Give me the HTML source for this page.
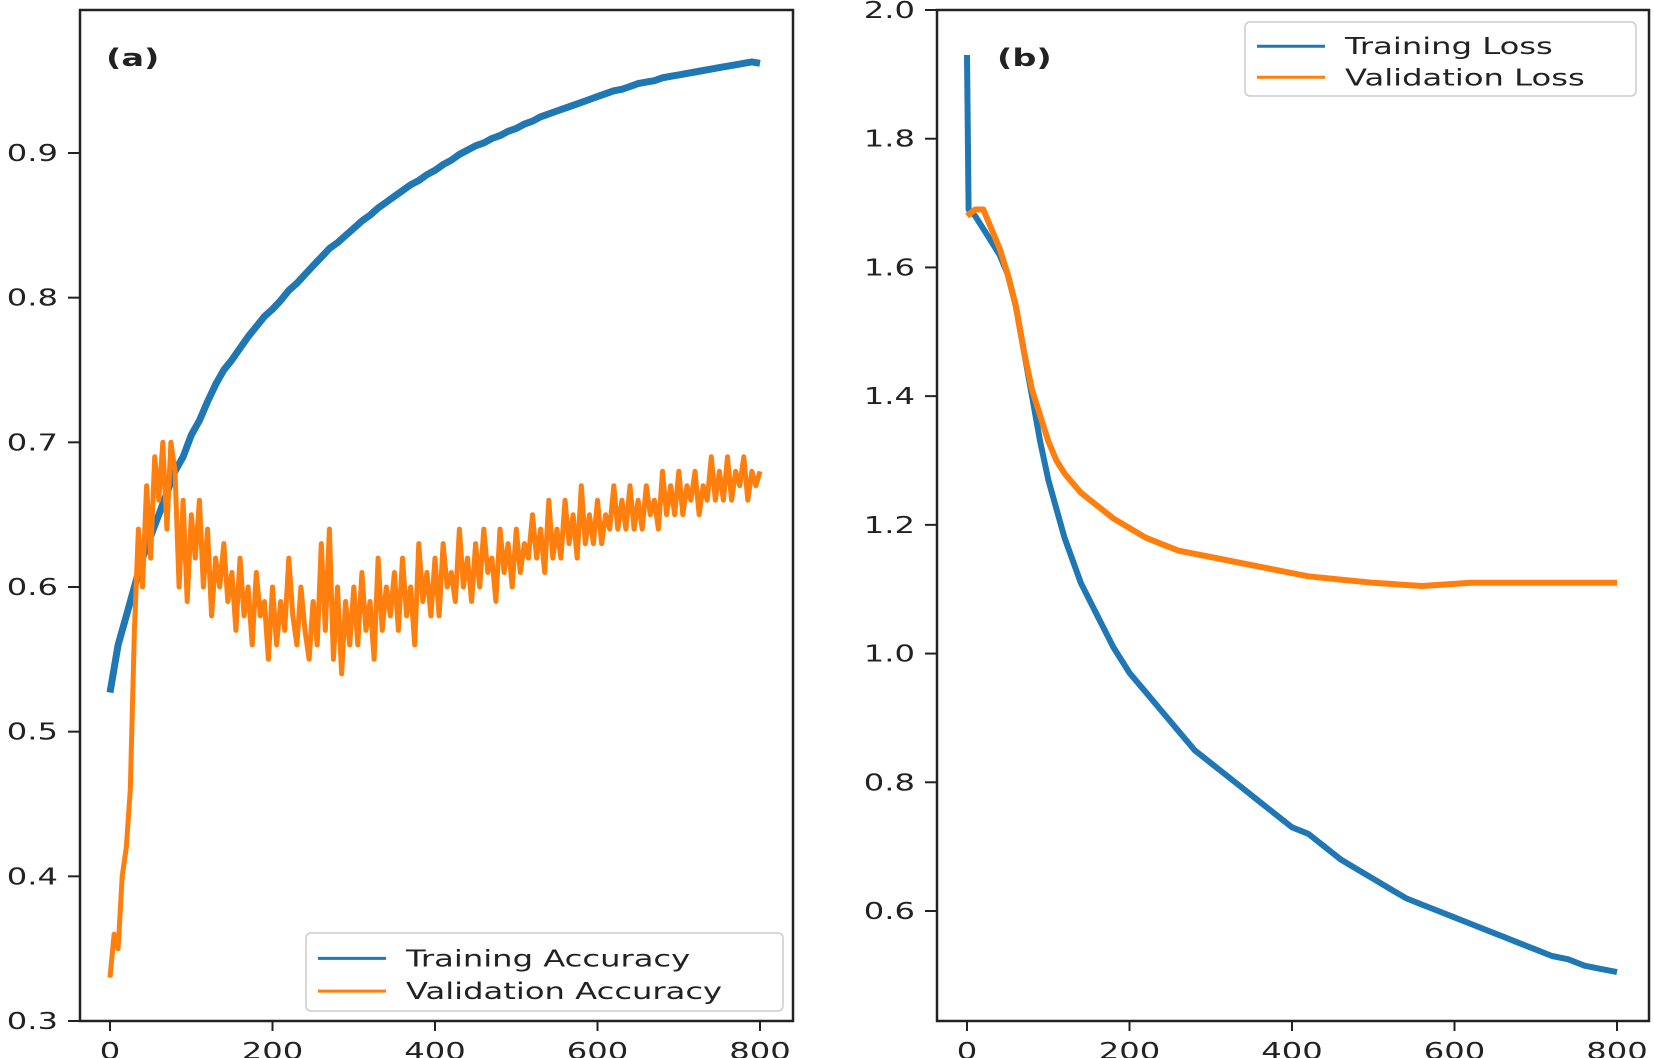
<!DOCTYPE html>
<html><head><meta charset="utf-8"><style>
html,body{margin:0;padding:0;background:#fff;width:1654px;height:1058px;overflow:hidden}
svg text{font-family:"DejaVu Sans","Liberation Sans",sans-serif;fill:#222}
</style></head><body>
<svg id="fig" width="1654" height="1058" viewBox="0 0 1654 1058" xmlns="http://www.w3.org/2000/svg">
<g id="pa"></g>
<g id="pb"></g>
</svg>
<script>
// ---------- data ----------
const accTrainEpochs = [0,10,20,30,40,50,60,70,80,90,100,110,120,130,140,150,160,170,180,190,200,210,220,230,240,250,260,270,280,290,300,310,320,330,340,350,360,370,380,390,400,410,420,430,440,450,460,470,480,490,500,510,520,530,540,550,560,570,580,590,600,610,620,630,640,650,660,670,680,690,700,710,720,730,740,750,760,770,780,790,800];
const accTrain = [0.527,0.56,0.58,0.60,0.62,0.635,0.65,0.665,0.68,0.69,
0.705,0.715,0.728,0.74,0.75,0.757,0.765,0.773,0.78,0.787,
0.792,0.798,0.805,0.81,0.816,0.822,0.828,0.834,0.838,0.843,
0.848,0.853,0.857,0.862,0.866,0.870,0.874,0.878,0.881,0.885,
0.888,0.892,0.895,0.899,0.902,0.905,0.907,0.910,0.912,0.915,
0.917,0.920,0.922,0.925,0.927,0.929,0.931,0.933,0.935,0.937,
0.939,0.941,0.943,0.944,0.946,0.948,0.949,0.950,0.952,0.953,
0.954,0.955,0.956,0.957,0.958,0.959,0.960,0.961,0.962,0.963,0.962];
const accValStep = 5;
const accVal = [0.33,0.36,0.35,0.40,0.42,0.46,0.57,0.64,0.60,0.67,
0.62,0.69,0.66,0.70,0.64,0.70,0.68,0.60,0.66,0.59,
0.65,0.62,0.66,0.60,0.64,0.58,0.62,0.60,0.63,0.59,
0.61,0.57,0.62,0.58,0.60,0.56,0.61,0.58,0.59,0.55,
0.60,0.56,0.59,0.57,0.62,0.58,0.56,0.60,0.57,0.55,
0.59,0.56,0.63,0.57,0.64,0.55,0.60,0.54,0.59,0.56,
0.60,0.56,0.61,0.57,0.59,0.55,0.62,0.57,0.60,0.58,
0.61,0.57,0.62,0.58,0.60,0.56,0.63,0.59,0.61,0.58,
0.62,0.58,0.63,0.60,0.61,0.59,0.64,0.60,0.62,0.59,
0.63,0.60,0.64,0.61,0.62,0.59,0.64,0.61,0.63,0.60,
0.64,0.61,0.63,0.62,0.65,0.62,0.64,0.61,0.66,0.62,
0.64,0.62,0.66,0.63,0.65,0.62,0.67,0.63,0.65,0.63,
0.66,0.63,0.65,0.64,0.67,0.64,0.66,0.64,0.67,0.64,
0.66,0.64,0.67,0.65,0.66,0.64,0.68,0.65,0.67,0.65,
0.68,0.65,0.67,0.66,0.68,0.65,0.67,0.66,0.69,0.66,
0.68,0.66,0.69,0.66,0.68,0.67,0.69,0.66,0.68,0.67,0.68];
const lossTrainEpochs = [0,2,10,20,30,40,50,60,70,80,90,100,120,140,160,180,200,220,240,260,280,300,320,340,360,380,400,420,440,460,480,500,520,540,560,580,600,620,640,660,680,700,720,740,760,780,800];
const lossTrain = [1.93,1.69,1.68,1.66,1.64,1.62,1.59,1.54,1.47,1.40,1.33,1.27,1.18,1.11,1.06,1.01,0.97,0.94,0.91,0.88,0.85,0.83,0.81,0.79,0.77,0.75,0.73,0.72,0.70,0.68,0.665,0.65,0.635,0.62,0.61,0.60,0.59,0.58,0.57,0.56,0.55,0.54,0.53,0.525,0.515,0.51,0.505];
const lossValEpochs = [0,10,20,30,40,50,60,70,80,90,100,110,120,140,160,180,200,220,240,260,280,300,340,380,420,460,500,560,620,680,740,800];
const lossVal = [1.68,1.69,1.69,1.66,1.63,1.59,1.54,1.47,1.41,1.37,1.33,1.30,1.28,1.25,1.23,1.21,1.195,1.18,1.17,1.16,1.155,1.15,1.14,1.13,1.12,1.115,1.11,1.105,1.11,1.11,1.11,1.11];
const xTicks = [0,200,400,600,800];
const accYTicks = [0.3,0.4,0.5,0.6,0.7,0.8,0.9];
const lossYTicks = [0.6,0.8,1.0,1.2,1.4,1.6,1.8,2.0];

// ---------- drawing ----------
const NS = "http://www.w3.org/2000/svg";
const SX = 1.4;
function mk(tag, attrs, parent){const e=document.createElementNS(NS,tag);for(const k in attrs)e.setAttribute(k,attrs[k]);parent.appendChild(e);return e;}
function txt(parent,x,y,s,size,anchor,weight){
  const t=mk('text',{transform:`translate(${x},${y}) scale(${SX},1)`,'font-size':size,'text-anchor':anchor||'start','font-weight':weight||'normal'},parent);
  t.textContent=s;return t;
}
function panel(g, L, R, T, B, x0px, x800px, yv0, yp0, yv1, yp1, yTicks){
  const xs = v => x0px + (x800px - x0px) * v / 800;
  const ys = v => yp0 + (yp1 - yp0) * (v - yv0) / (yv1 - yv0);
  const ax = mk('g',{},g);
  
  
  xTicks.forEach(t=>{
    const tk=mk('line',{x1:xs(t),x2:xs(t),y1:B,y2:B+10,stroke:'#222','stroke-width':2},ax);
    
    
    const lb=txt(ax,xs(t),B+38,String(t),23,'middle');
    
    
  });
  const ay = mk('g',{},g);
  
  
  yTicks.forEach(t=>{
    const tk=mk('line',{x1:L-12,x2:L,y1:ys(t),y2:ys(t),stroke:'#222','stroke-width':2},ay);
    
    
    const lb=txt(ay,L-22,ys(t)+8,t.toFixed(1),23,'end');
    
    
  });
  return {xs,ys};
}
function line(g, epochs, vals, sc, color, name, w){
  const d = vals.map((v,i)=>(i?'L':'M')+sc.xs(epochs[i]).toFixed(1)+','+sc.ys(v).toFixed(1)).join(' ');
  const p = mk('path',{d, fill:'none', stroke:color,'stroke-width':w||4,'stroke-linejoin':'round'},g);
  
  
}
function frame(g,L,R,T,B){
  const f=mk('rect',{x:L,y:T,width:R-L,height:B-T,fill:'none',stroke:'#222','stroke-width':2.5},g);
  
  
}
function legend(g,x,y,w,h,items){
  const lg=mk('g',{},g);
  
  
  mk('rect',{x,y,width:w,height:h,rx:5,fill:'#fff','fill-opacity':0.85,stroke:'#ccc','stroke-width':1.5},lg);
  items.forEach((it,i)=>{
    const cy=y+h*(0.3+0.42*i)+2;
    const e=mk('g',{},lg);
    
    
    mk('line',{x1:x+12,x2:x+80,y1:cy,y2:cy,stroke:it[1],'stroke-width':3},e);
    txt(e,x+100,cy+8,it[0],23,'start');
  });
}

// Panel A
const pa=document.getElementById('pa');
const A={L:80,R:793,T:10,B:1021};
const sa=panel(pa,A.L,A.R,A.T,A.B,110,760,0.3,1021,0.9,153,accYTicks);
const accValEpochs = accVal.map((_,i)=>i*accValStep);
line(pa,accTrainEpochs,accTrain,sa,'#1f77b4','training-accuracy-line',7);
line(pa,accValEpochs,accVal,sa,'#ff7f0e','validation-accuracy-line',5);
frame(pa,A.L,A.R,A.T,A.B);
legend(pa,306,933,477,78,[['Training Accuracy','#1f77b4'],['Validation Accuracy','#ff7f0e']]);
const la=txt(pa,106,66,'(a)',24,'start','bold');



// Panel B
const pb=document.getElementById('pb');
const Bp={L:937,R:1649,T:10,B:1021};
const sb=panel(pb,Bp.L,Bp.R,Bp.T,Bp.B,967,1617,0.6,911,2.0,10,lossYTicks);
line(pb,lossTrainEpochs,lossTrain,sb,'#1f77b4','training-loss-line',6);
line(pb,lossValEpochs,lossVal,sb,'#ff7f0e','validation-loss-line',6);
frame(pb,Bp.L,Bp.R,Bp.T,Bp.B);
legend(pb,1245,22,391,74,[['Training Loss','#1f77b4'],['Validation Loss','#ff7f0e']]);
const lb=txt(pb,997,66,'(b)',24,'start','bold');


</script>
</body></html>
